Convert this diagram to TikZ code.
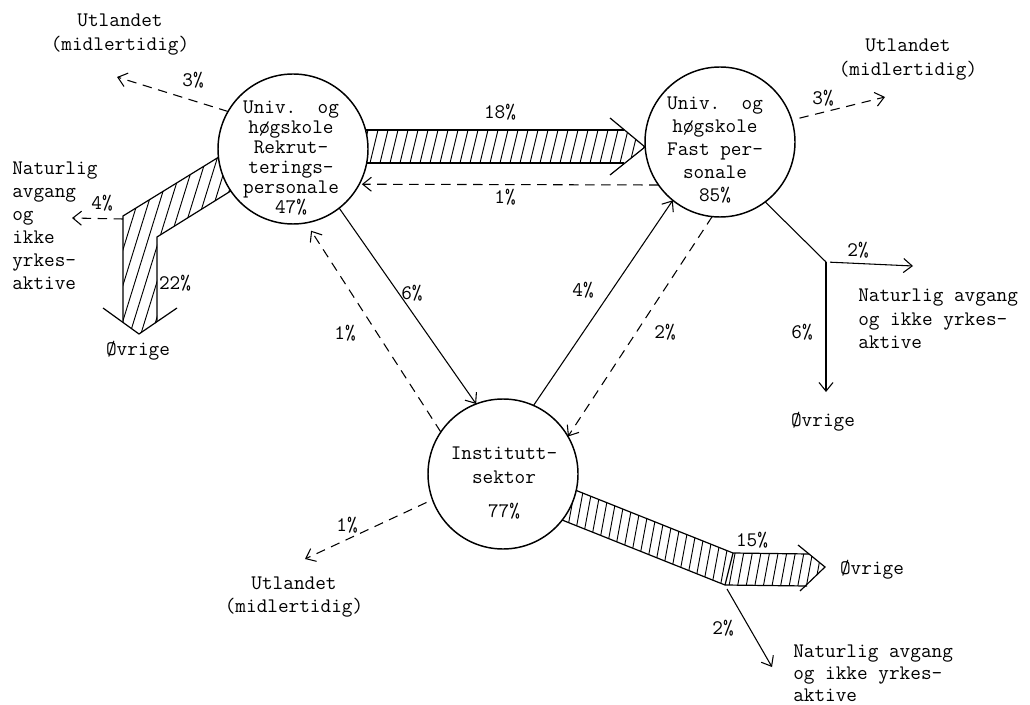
\documentclass[tikz,border=0pt]{standalone}
\usetikzlibrary{arrows.meta}
\begin{document}
\begin{tikzpicture}[x=0.75pt,y=-0.75pt,
  font=\ttfamily\fontsize{15.5}{17.25}\selectfont,
  circ/.style={circle,draw,line width=1.1pt,fill=white,minimum size=112.5pt,inner sep=0pt,outer sep=0pt},
  lbl/.style={inner sep=0pt},
  conn/.style={line width=0.8pt,-{Straight Barb[length=6.5pt,width=10.5pt]}},
  dconn/.style={conn,dash pattern=on 7pt off 5pt},
  plain/.style={line width=0.8pt},
  band/.style={line width=0.9pt},
  hatch/.style={line width=0.7pt}]
\useasboundingbox (0,0) rectangle (1030,705);

% ---- hatched band 18% ----
\begin{scope}
  \clip (350,130) -- (624,130) -- (645,147) -- (624,163) -- (350,163) -- cycle;
  \foreach \i in {0,...,31} \draw[hatch] ({350+\i*10},163) -- ++(8,-33);
\end{scope}
\draw[band] (350,130) -- (624,130);
\draw[band] (350,163) -- (624,163);
\draw[band] (610,118) -- (645,147) -- (610,175);

% ---- hatched band 22% (left) ----
\begin{scope}
  \clip (240,144) -- (123,216) -- (123,322) -- (139,334) -- (157,322) -- (157,237) -- (250,179) -- cycle;
  \foreach \i in {0,...,31} \draw[hatch] ({-70+\i*11},340) -- ++(65,-210);
\end{scope}
\draw[band] (240,144) -- (123,216) -- (123,322);
\draw[band] (250,179) -- (157,237) -- (157,322);
\draw[band] (103,308) -- (139,334) -- (177,308);

% ---- hatched band 15% ----
\begin{scope}
  \clip (555,482) -- (733,553) -- (809,554) -- (825,567) -- (805,586) -- (725,585) -- (547,514) -- cycle;
  \foreach \i in {0,...,37} \draw[hatch] ({520+\i*8.6},600) -- ++(24,-130);
\end{scope}
\draw[band] (555,482) -- (733,553) -- (809,554);
\draw[band] (547,514) -- (725,585) -- (807,586);
\draw[band] (733,553) -- (725,585);
\draw[band] (798,545) -- (825,567) -- (800,591);

% ---- circles ----
\node[circ] (c1) at (293,149) {};
\node[circ] (c2) at (720,142) {};
\node[circ] (c3) at (503,474) {};

\node[lbl,align=center,font=\ttfamily\fontsize{15.5}{15}\selectfont] (t1) at (291,158)
  {Univ.\ \ og\\høgskole\\Rekrut-\\terings-\\personale\\47\%};
\node[lbl,align=center] (t2) at (715,150)
  {Univ.\ \ og\\høgskole\\Fast per-\\sonale\\85\%};
\node[lbl,align=center,font=\ttfamily\fontsize{15.5}{18}\selectfont] (t3) at (504,483)
  {Institutt-\\sektor\\[7.5pt]77\%};

% ---- connectors between circles ----
\draw[conn] (c1.-52) -- (c3.111);
\draw[dconn,shorten >=7pt] (c3.146) -- (c1.-80);
\draw[conn] (c3.66) -- (c2.-129);
\draw[dconn] (c2.-96) -- (c3.30);
\draw[dconn,shorten >=2pt] (c2.-145) -- (c1.-28.7);

% ---- outgoing connectors ----
\coordinate (u1) at (117,77);
\draw[dconn] (c1.150) -- (u1);
\coordinate (u2) at (885,97);
\draw[dconn,shorten <=6pt] (c2.17) -- (u2);
\coordinate (u3) at (305,559);
\draw[dconn,shorten <=5pt] (c3.-160) -- (u3);
\coordinate (j1) at (826,262);
\coordinate (e2) at (913,266);
\coordinate (e3) at (826,392);
\draw[plain] (c2.-53) -- (j1);
\draw[conn,shorten <=3pt] (j1) -- (e2);
\draw[conn] (j1) -- (e3);
\coordinate (b4a) at (123,219);
\coordinate (b4b) at (72,218);
\draw[dconn] (b4a) -- (b4b);
\coordinate (s1) at (727,589);
\coordinate (s2) at (772,667);
\draw[conn] (s1) -- (s2);

% ---- labels ----
\node[lbl,align=center,font=\ttfamily\fontsize{15.5}{18}\selectfont] (ul1) at (120,35) {Utlandet\\(midlertidig)};
\node[lbl] (p3a) at (193,80) {3\%};
\node[lbl,align=left,anchor=west] (nl) at (12,226) {Naturlig\\avgang\\og\\ikke\\yrkes-\\aktive};
\node[lbl] (p4a) at (102,203) {4\%};
\node[lbl] (p22) at (175,283) {22\%};
\node[lbl] (ov1) at (138,351) {Øvrige};

\node[lbl] (p18) at (500,112) {18\%};
\node[lbl] (p1a) at (505,197) {1\%};
\node[lbl] (p6a) at (412,293) {6\%};
\node[lbl] (p1b) at (345,333) {1\%};
\node[lbl] (p4b) at (583,290) {4\%};
\node[lbl] (p2a) at (665,332) {2\%};

\node[lbl,align=center,font=\ttfamily\fontsize{15.5}{18}\selectfont] (ul2) at (908,60) {Utlandet\\(midlertidig)};
\node[lbl] (p3b) at (823,98) {3\%};
\node[lbl] (p2b) at (858,250) {2\%};
\node[lbl,align=left,anchor=west,font=\ttfamily\fontsize{15.5}{17.5}\selectfont] (nr) at (858,319) {Naturlig avgang\\og ikke yrkes-\\aktive};
\node[lbl] (p6b) at (802,332) {6\%};
\node[lbl] (ov2) at (823,422) {Øvrige};

\node[lbl] (p1c) at (347,525) {1\%};
\node[lbl,align=center] (ul3) at (294,597) {Utlandet\\(midlertidig)};
\node[lbl] (p15) at (752,540) {15\%};
\node[lbl] (ov3) at (872,570) {Øvrige};
\node[lbl] (p2c) at (723,628) {2\%};
\node[lbl,align=left,anchor=west,font=\ttfamily\fontsize{15.5}{16.5}\selectfont] (nb) at (793,673) {Naturlig avgang\\og ikke yrkes-\\aktive};
\end{tikzpicture}
\end{document}
